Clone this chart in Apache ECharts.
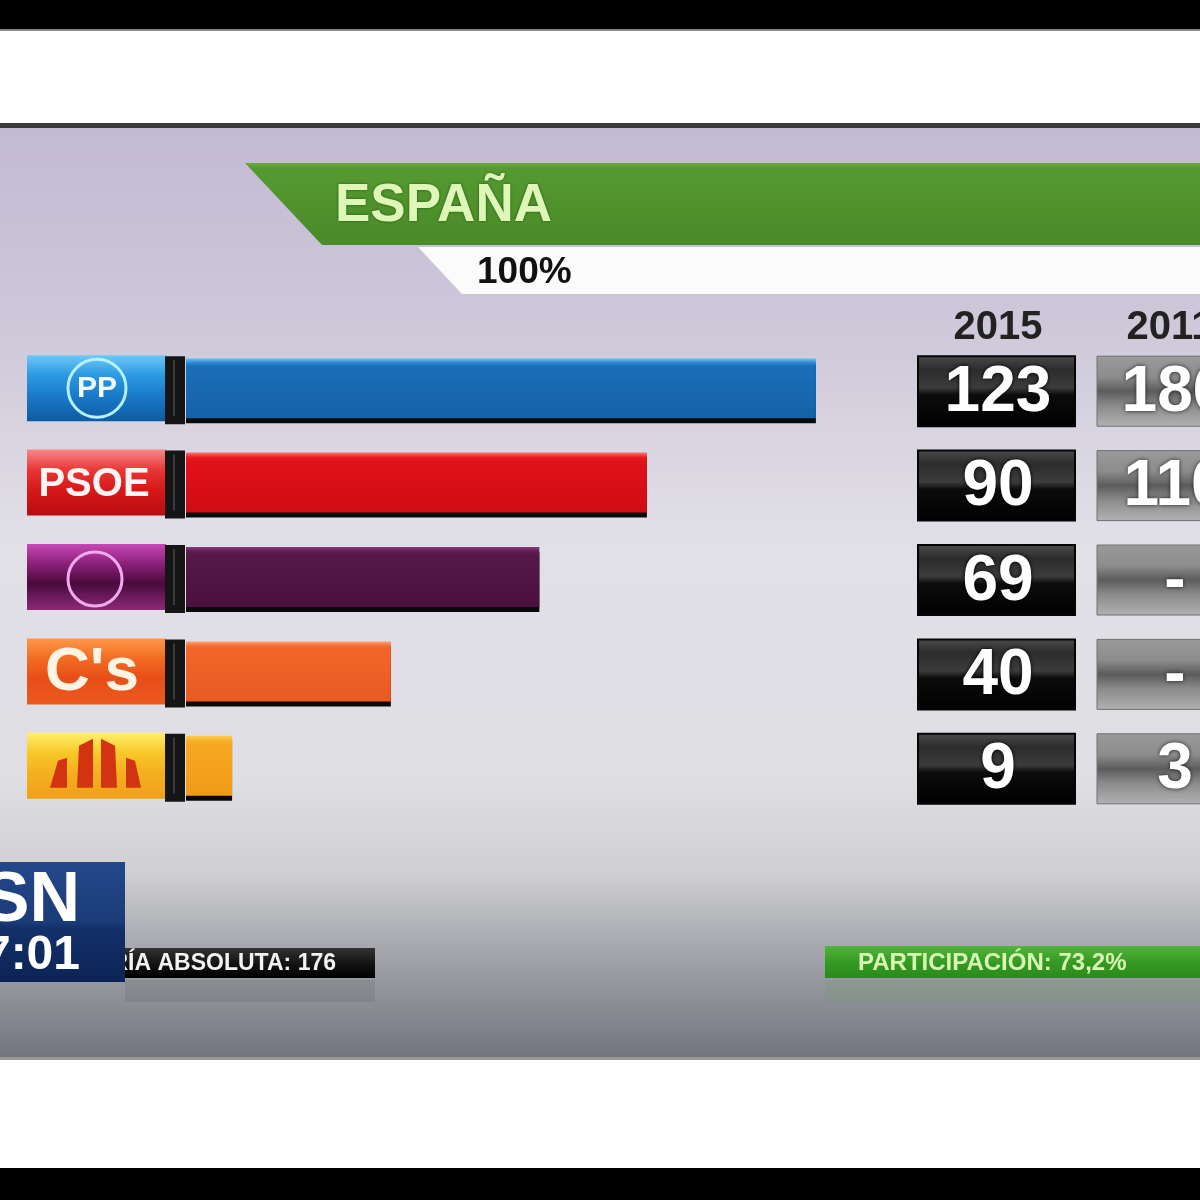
<!DOCTYPE html>
<html><head><meta charset="utf-8">
<script src="https://cdn.jsdelivr.net/npm/echarts@6/dist/echarts.min.js"></script>
<style>html,body{margin:0;padding:0;background:#fff}#c{width:1200px;height:1200px}</style>
</head><body><div id="c"></div>
<script>
// ---- data ----
const parties = ['PP', 'PSOE', 'Podemos', "C's", 'ERC'];
const seats2015 = [123, 90, 69, 40, 9];
const seats2011 = [186, 110, null, null, 3];
const yearLabels = ['2015', '2011'];
const regionTitle = 'ESPAÑA';
const scrutinyLabel = '100%';
const majorityLabel = 'MAYORÍA ABSOLUTA: 176';
const turnoutLabel = 'PARTICIPACIÓN: 73,2%';
const channelLabel = 'SN';
const clockLabel = '7:01';

// ---- styles ----
const FONT = '"Liberation Sans", Arial, sans-serif';
const barStops = [
  ['#7cc8f4', '#2a86cc', '#1a6fb8', '#1462a8'],
  ['#ff7070', '#ea1c1c', '#e0121a', '#d00c12'],
  ['#8a3a7a', '#5e1c50', '#561848', '#4a1040'],
  ['#ffa070', '#f46a30', '#f26428', '#e85a20'],
  ['#ffd050', '#f8b028', '#f7a823', '#f09a18']
];
const logoStops = [
  ['#70c8f6', '#2c9ae2', '#1a7ccc', '#0e5aa0'],
  ['#f88888', '#e83838', '#d81818', '#b80c10'],
  ['#c848b8', '#8a2078', '#4a0a3c', '#8a2a7a'],
  ['#ff9848', '#f26c22', '#e84e18', '#ec5a20'],
  ['#fff070', '#f8c828', '#f4b020', '#f0a018']
];
function vgrad(stops, pos) {
  pos = pos || [0, 0.12, 0.5, 1];
  return new echarts.graphic.LinearGradient(0, 0, 0, 1,
    stops.map((c, i) => ({ offset: pos[i], color: c })));
}

const chart = echarts.init(document.getElementById('c'), null, { renderer: 'canvas' });

const base = {
  animation: false,
  grid: { left: 186, right: 0, top: 341, height: 472 },
  xAxis: { type: 'value', min: 0, max: 198, show: false },
  yAxis: { type: 'category', data: parties, inverse: true, show: false },
  series: [{
    type: 'bar',
    barWidth: 60,
    z: 5,
    data: seats2015.map((v, i) => ({
      value: v,
      itemStyle: { color: vgrad(barStops[i], [0, 0.08, 0.14, 1]) }
    })),
    itemStyle: { shadowColor: '#0a0a0a', shadowOffsetY: 5, shadowBlur: 0 }
  }]
};
chart.setOption(base);

function txt(text, x, y, size, fill, align, extra) {
  return Object.assign({
    type: 'text', z: 20,
    style: Object.assign({
      text: text, x: x, y: y, fill: fill,
      font: 'bold ' + size + 'px ' + FONT,
      textAlign: align || 'center', textVerticalAlign: 'middle',
      align: align || 'center', verticalAlign: 'middle'
    }, extra || {})
  });
}
function rect(x, y, w, h, fill, z, extra) {
  return { type: 'rect', z: z, shape: { x: x, y: y, width: w, height: h }, style: Object.assign({ fill: fill }, extra || {}) };
}

const els = [];
// TV frame and outer borders
els.push(rect(0, 0, 1200, 29, '#000', -20));
els.push(rect(0, 29, 1200, 2, '#8a8a8a', -20));
els.push(rect(0, 31, 1200, 92, '#fff', -20));
els.push(rect(0, 123, 1200, 5, '#3a3a3a', -20));
els.push(rect(0, 128, 1200, 930, new echarts.graphic.LinearGradient(0, 0, 0, 1, [
  { offset: 0, color: '#c3bad3' }, { offset: 0.2, color: '#cdc7d9' },
  { offset: 0.45, color: '#e2e0e7' }, { offset: 0.7, color: '#dfdee3' },
  { offset: 0.8, color: '#d0d0d3' }, { offset: 0.88, color: '#a6a8ae' },
  { offset: 1, color: '#72757e' }]), -20));
els.push(rect(0, 1057, 1200, 3, '#9a9a9a', -20));
els.push(rect(0, 1060, 1200, 108, '#fff', -20));
els.push(rect(0, 1168, 1200, 32, '#000', -20));

// header
els.push({ type: 'polygon', z: 10, shape: { points: [[245, 163], [1200, 163], [1200, 245], [322, 245]] },
  style: { fill: new echarts.graphic.LinearGradient(0, 0, 0, 1, [
    { offset: 0, color: '#6aa83c' }, { offset: 0.06, color: '#559a30' }, { offset: 1, color: '#4a8a28' }]) } });
els.push({ type: 'polygon', z: 10, shape: { points: [[418, 247], [1200, 247], [1200, 294], [462, 294]] },
  style: { fill: '#fbfbfb' } });
els.push(txt(regionTitle, 335, 206, 53, '#def6b6', 'left', { textShadowColor: 'rgba(0,40,0,0.6)', textShadowBlur: 3 }));
els.push(txt(scrutinyLabel, 477, 273, 37, '#111', 'left'));
els.push(txt(yearLabels[0], 998, 328, 40, '#222'));
els.push(txt(yearLabels[1], 1170, 328, 40, '#222'));

// rows
parties.forEach((p, i) => {
  const y = chart.convertToPixel({ yAxisIndex: 0 }, p);
  // logo box
  els.push(rect(27, y - 33, 139, 66, vgrad(logoStops[i], [0, 0.3, 0.6, 1]), 8));
  // dark separator
  els.push(rect(165, y - 32, 20, 68, '#151515', 9));
  els.push(rect(173, y - 28, 2, 56, '#3a3a3a', 9));
  // logo content
  if (i === 0) {
    els.push({ type: 'circle', z: 12, shape: { cx: 97, cy: y, r: 29 }, style: { fill: 'none', stroke: '#b4f2ff', lineWidth: 3 } });
    els.push(txt('PP', 97, y + 1, 30, '#f4fcff'));
  } else if (i === 1) {
    els.push(txt('PSOE', 94, y + 2, 40, '#fff4f4'));
  } else if (i === 2) {
    els.push({ type: 'circle', z: 12, shape: { cx: 95, cy: y + 2, r: 27 }, style: { fill: 'none', stroke: '#f2aaee', lineWidth: 3 } });
  } else if (i === 3) {
    els.push(txt("C's", 92, y + 2, 62, '#fff3e2'));
  } else if (i === 4) {
    const redF = '#d23412';
    els.push({ type: 'polygon', z: 12, shape: { points: [[50, y + 22], [58, y - 5], [67, y - 8], [67, y + 22]] }, style: { fill: redF } });
    els.push({ type: 'polygon', z: 12, shape: { points: [[77, y + 22], [79, y - 20], [93, y - 27], [93, y + 22]] }, style: { fill: redF } });
    els.push({ type: 'polygon', z: 12, shape: { points: [[101, y + 22], [101, y - 27], [115, y - 20], [117, y + 22]] }, style: { fill: redF } });
    els.push({ type: 'polygon', z: 12, shape: { points: [[126, y + 22], [126, y - 8], [135, y - 5], [141, y + 22]] }, style: { fill: redF } });
  }
  // 2015 box
  els.push(rect(918, y - 32, 157, 70, new echarts.graphic.LinearGradient(0, 0, 0, 1, [
    { offset: 0, color: '#4c4c4c' }, { offset: 0.2, color: '#2c2c2c' }, { offset: 0.45, color: '#3c3c3c' },
    { offset: 0.55, color: '#0c0c0c' }, { offset: 1, color: '#000' }]), 10, { stroke: '#050505', lineWidth: 2 }));
  els.push(txt(String(seats2015[i]), 998, y + 5, 64, '#fff', 'center', { textShadowColor: '#000', textShadowBlur: 4 }));
  // 2011 box
  els.push(rect(1097, y - 32, 120, 70, new echarts.graphic.LinearGradient(0, 0, 0, 1, [
    { offset: 0, color: '#9a9a9a' }, { offset: 0.3, color: '#8c8c8c' }, { offset: 0.5, color: '#5c5c5c' },
    { offset: 0.7, color: '#8a8a8a' }, { offset: 1, color: '#b2b2b2' }]), 10, { stroke: '#707070', lineWidth: 1 }));
  const v11 = seats2011[i] == null ? '-' : String(seats2011[i]);
  els.push(txt(v11, 1175, y + 5, 64, '#fff', 'center', { textShadowColor: '#222', textShadowBlur: 4 }));
});

// footer strips
els.push(rect(125, 948, 250, 30, new echarts.graphic.LinearGradient(0, 0, 0, 1, [
  { offset: 0, color: '#333' }, { offset: 0.5, color: '#151515' }, { offset: 1, color: '#000' }]), 10));
els.push(txt(majorityLabel, 336, 964, 23, '#f2f2f2', 'right'));
els.push(rect(125, 980, 250, 22, 'rgba(60,60,60,0.12)', 10));
els.push(rect(0, 862, 125, 120, new echarts.graphic.LinearGradient(0, 0, 0, 1, [
  { offset: 0, color: '#24488a' }, { offset: 0.5, color: '#1b3b78' }, { offset: 0.55, color: '#12306a' },
  { offset: 1, color: '#0c2454' }]), 30));
els.push(Object.assign(txt(channelLabel, 80, 902, 70, '#fff', 'right'), { z: 31 }));
els.push(Object.assign(txt(clockLabel, 80, 956, 48, '#fff', 'right'), { z: 31 }));

els.push(rect(825, 946, 380, 32, new echarts.graphic.LinearGradient(0, 0, 0, 1, [
  { offset: 0, color: '#52b43a' }, { offset: 0.5, color: '#379a24' }, { offset: 1, color: '#2a8a1c' }]), 10));
els.push(txt(turnoutLabel, 858, 963, 24, '#d6f8b2', 'left'));
els.push(rect(825, 980, 380, 22, 'rgba(80,160,60,0.12)', 10));

chart.setOption({ graphic: { elements: els } });
</script>
</body></html>
